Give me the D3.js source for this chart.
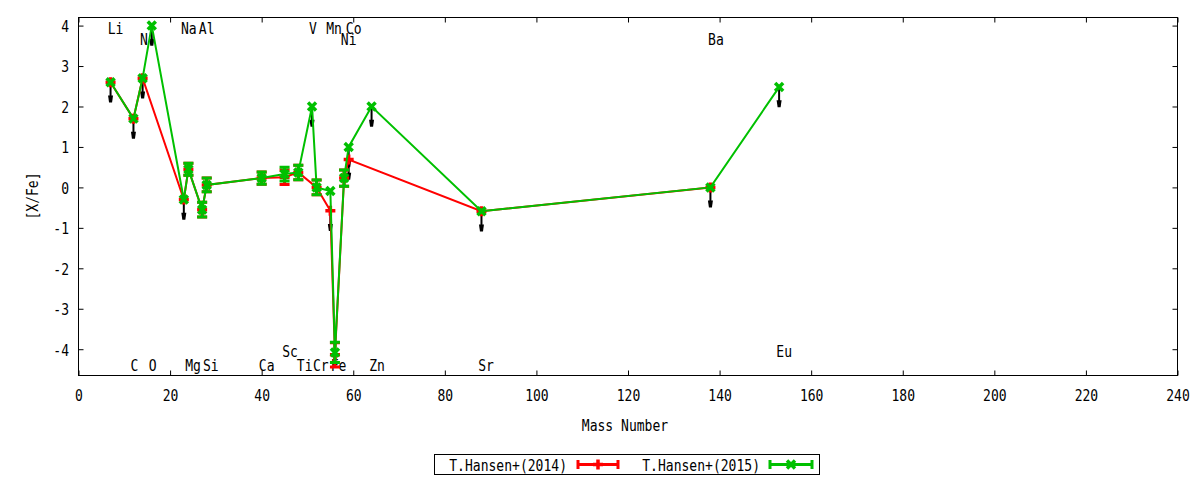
<!DOCTYPE html>
<html>
<head>
<meta charset="utf-8">
<script src="https://cdn.jsdelivr.net/npm/d3@7"></script>
<style>
  body { margin: 0; background: #fff; }
  text { font-family: "DejaVu Sans Mono", monospace; font-size: 16px; fill: #000; }
</style>
</head>
<body>
<div id="chart"></div>
<script>
// T.Hansen+(2015)
const mass2015 = [7, 12, 14, 16, 23, 24, 27, 28, 40, 45, 48, 51, 52, 55, 56, 58, 59, 64, 88, 138, 153];
const xfe2015  = [2.6, 1.7, 2.7, 4.0, -0.3, 0.45, -0.55, 0.06, 0.23, 0.33, 0.37, 2.0, 0.0, -0.09, -4.08, 0.23, 1.0, 2.0, -0.59, 0.0, 2.48];
const err2015  = [0, 0, 0, 0, 0, 0.15, 0.18, 0.17, 0.15, 0.17, 0.18, 0, 0.18, 0, 0.25, 0.2, 0, 0, 0, 0, 0];

// T.Hansen+(2014)
const mass2014 = [7, 12, 14, 23, 24, 27, 28, 40, 45, 48, 52, 55, 56, 58, 59, 88, 138];
const xfe2014  = [2.6, 1.7, 2.7, -0.3, 0.45, -0.55, 0.06, 0.23, 0.25, 0.37, 0.0, -0.58, -4.14, 0.23, 0.69, -0.59, 0.0];
const err2014  = [0, 0, 0, 0, 0.15, 0.18, 0.17, 0.15, 0.18, 0.18, 0.18, 0, 0.3, 0.2, 0, 0, 0];

// upper limits (black arrows)
const limitMass = [7, 12, 14, 16, 23, 51, 55, 59, 59, 64, 88, 138, 153];
const limitXfe  = [2.6, 1.7, 2.7, 4.0, -0.3, 2.0, -0.58, 1.0, 0.69, 2.0, -0.59, 0.0, 2.48];

// element names written in the plot
const labelNames = ["Li", "N", "C", "O", "Na", "Al", "Mg", "Si", "Ca", "Sc", "Ti", "V", "Cr", "Mn", "Fe", "Ni", "Co", "Zn", "Sr", "Ba", "Eu"];
const labelMass  = [8.1, 14.3, 12.2, 16.2, 24.1, 28.0, 25.0, 28.9, 41.1, 46.2, 49.4, 51.2, 52.9, 55.8, 56.8, 59.0, 60.1, 65.2, 89.0, 139.2, 154.1];
const labelXfe   = [3.93, 3.67, -4.38, -4.38, 3.93, 3.93, -4.38, -4.38, -4.38, -4.04, -4.38, 3.93, -4.38, 3.93, -4.38, 3.67, 3.93, -4.38, -4.38, 3.67, -4.04];

const xTicks = [0, 20, 40, 60, 80, 100, 120, 140, 160, 180, 200, 220, 240];
const yTicks = [-4, -3, -2, -1, 0, 1, 2, 3, 4];
const seriesNames = ["T.Hansen+(2014)", "T.Hansen+(2015)"];

const W = 1200, H = 480;
const plotL = 78.5, plotR = 1177.5, plotT = 17.5, plotB = 375.5;
const charW = 7.85;   // narrow mono look of the original

const svg = d3.select("#chart").append("svg")
    .attr("width", W)
    .attr("height", H);

const x = d3.scaleLinear().domain([0, 240]).range([plotL, plotR]);
const y = d3.scaleLinear().domain([-4.65, 4.2]).range([plotB, plotT]);

function squeeze(sel) {
    sel.attr("textLength", function() { return this.textContent.length * charW; })
       .attr("lengthAdjust", "spacingAndGlyphs");
}

// axes, ticks on all four sides pointing inward
const gx = svg.append("g")
    .attr("transform", `translate(0,${plotB})`)
    .call(d3.axisBottom(x).tickValues(xTicks).tickSizeInner(-5).tickSizeOuter(0).tickFormat(d => d));
gx.selectAll("text").attr("y", 25).attr("dy", 0).call(squeeze);

svg.append("g")
    .attr("transform", `translate(0,${plotT})`)
    .call(d3.axisTop(x).tickValues(xTicks).tickSizeInner(-5).tickSizeOuter(0).tickFormat(""));

const gy = svg.append("g")
    .attr("transform", `translate(${plotL},0)`)
    .call(d3.axisLeft(y).tickValues(yTicks).tickSizeInner(-5).tickSizeOuter(0).tickFormat(d => d));
gy.selectAll("text").attr("x", -9.5).attr("dy", 5.8).call(squeeze);

svg.append("g")
    .attr("transform", `translate(${plotR},0)`)
    .call(d3.axisRight(y).tickValues(yTicks).tickSizeInner(-5).tickSizeOuter(0).tickFormat(""));

svg.selectAll(".domain").remove();
svg.selectAll(".tick line").attr("stroke", "#000");
svg.selectAll(".tick text").style("font-size", "16px").style("font-family", "DejaVu Sans Mono, monospace");

svg.append("rect")
    .attr("x", plotL).attr("y", plotT)
    .attr("width", plotR - plotL).attr("height", plotB - plotT)
    .attr("fill", "none").attr("stroke", "#000");

// axis titles
svg.append("text")
    .attr("x", 625).attr("y", 431)
    .attr("text-anchor", "middle")
    .text("Mass Number").call(squeeze);

svg.append("text")
    .attr("transform", "translate(38,196) rotate(-90)")
    .attr("text-anchor", "middle")
    .text("[X/Fe]").call(squeeze);

// element labels (drawn under the data)
svg.append("g").selectAll("text")
    .data(labelNames)
    .join("text")
    .attr("x", (d, i) => x(labelMass[i]))
    .attr("y", (d, i) => y(labelXfe[i]) + 6)
    .attr("text-anchor", "middle")
    .text(d => d)
    .call(squeeze);

// upper limit arrows
const arrowLen = 0.5;
const limits = limitMass.map((m, i) => ({ m: m, v: limitXfe[i] }));
const ga = svg.append("g");
ga.selectAll("line")
    .data(limits)
    .join("line")
    .attr("x1", d => x(d.m)).attr("x2", d => x(d.m))
    .attr("y1", d => y(d.v)).attr("y2", d => y(d.v - arrowLen) - 3)
    .attr("stroke", "#000").attr("stroke-width", 2);
ga.selectAll("path")
    .data(limits)
    .join("path")
    .attr("d", d => {
        const px = x(d.m), py = y(d.v - arrowLen);
        return `M${px - 2.5},${py - 7}L${px + 2.5},${py - 7}L${px + 1.5},${py}L${px - 1.5},${py}Z`;
    })
    .attr("fill", "#000");

function drawSeries(masses, values, errs, color, marker) {
    const pts = masses.map((m, i) => ({ m: m, v: values[i], e: errs[i] }));
    const g = svg.append("g");

    g.append("path")
        .datum(pts)
        .attr("fill", "none")
        .attr("stroke", color)
        .attr("stroke-width", 2)
        .attr("d", d3.line().x(d => x(d.m)).y(d => y(d.v)));

    const bars = pts.filter(d => d.e > 0);
    g.selectAll(".ebar")
        .data(bars)
        .join("path")
        .attr("class", "ebar")
        .attr("fill", "none")
        .attr("stroke", color)
        .attr("stroke-width", 3)
        .attr("d", d => {
            const px = x(d.m), y0 = y(d.v - d.e), y1 = y(d.v + d.e);
            return `M${px},${y0}L${px},${y1}M${px - 5},${y0}L${px + 5},${y0}M${px - 5},${y1}L${px + 5},${y1}`;
        });

    g.selectAll(".pt")
        .data(pts)
        .join("path")
        .attr("class", "pt")
        .attr("fill", "none")
        .attr("stroke", color)
        .attr("stroke-width", 3.5)
        .attr("d", d => marker(x(d.m), y(d.v)));
}

const plus = (px, py) => `M${px - 5},${py}L${px + 5},${py}M${px},${py - 5}L${px},${py + 5}`;
const cross = (px, py) => `M${px - 4},${py - 4}L${px + 4},${py + 4}M${px - 4},${py + 4}L${px + 4},${py - 4}`;

drawSeries(mass2014, xfe2014, err2014, "#ff0000", plus);
drawSeries(mass2015, xfe2015, err2015, "#00c000", cross);

// legend
const legend = svg.append("g");
legend.append("rect")
    .attr("x", 434.5).attr("y", 454.5)
    .attr("width", 385).attr("height", 20)
    .attr("fill", "none").attr("stroke", "#000");

const legendItems = [
    { name: seriesNames[0], color: "#ff0000", textEnd: 567, x0: 578, x1: 618, marker: plus },
    { name: seriesNames[1], color: "#00c000", textEnd: 760, x0: 770, x1: 812, marker: cross }
];
legendItems.forEach(it => {
    legend.append("text")
        .attr("x", it.textEnd).attr("y", 470.5)
        .attr("text-anchor", "end")
        .text(it.name).call(squeeze);
    legend.append("path")
        .attr("fill", "none").attr("stroke", it.color).attr("stroke-width", 3)
        .attr("d", `M${it.x0},464.5L${it.x1},464.5M${it.x0},460L${it.x0},469M${it.x1},460L${it.x1},469`);
    legend.append("path")
        .attr("fill", "none").attr("stroke", it.color).attr("stroke-width", 3.5)
        .attr("d", it.marker((it.x0 + it.x1) / 2, 464.5));
});
</script>
</body>
</html>
